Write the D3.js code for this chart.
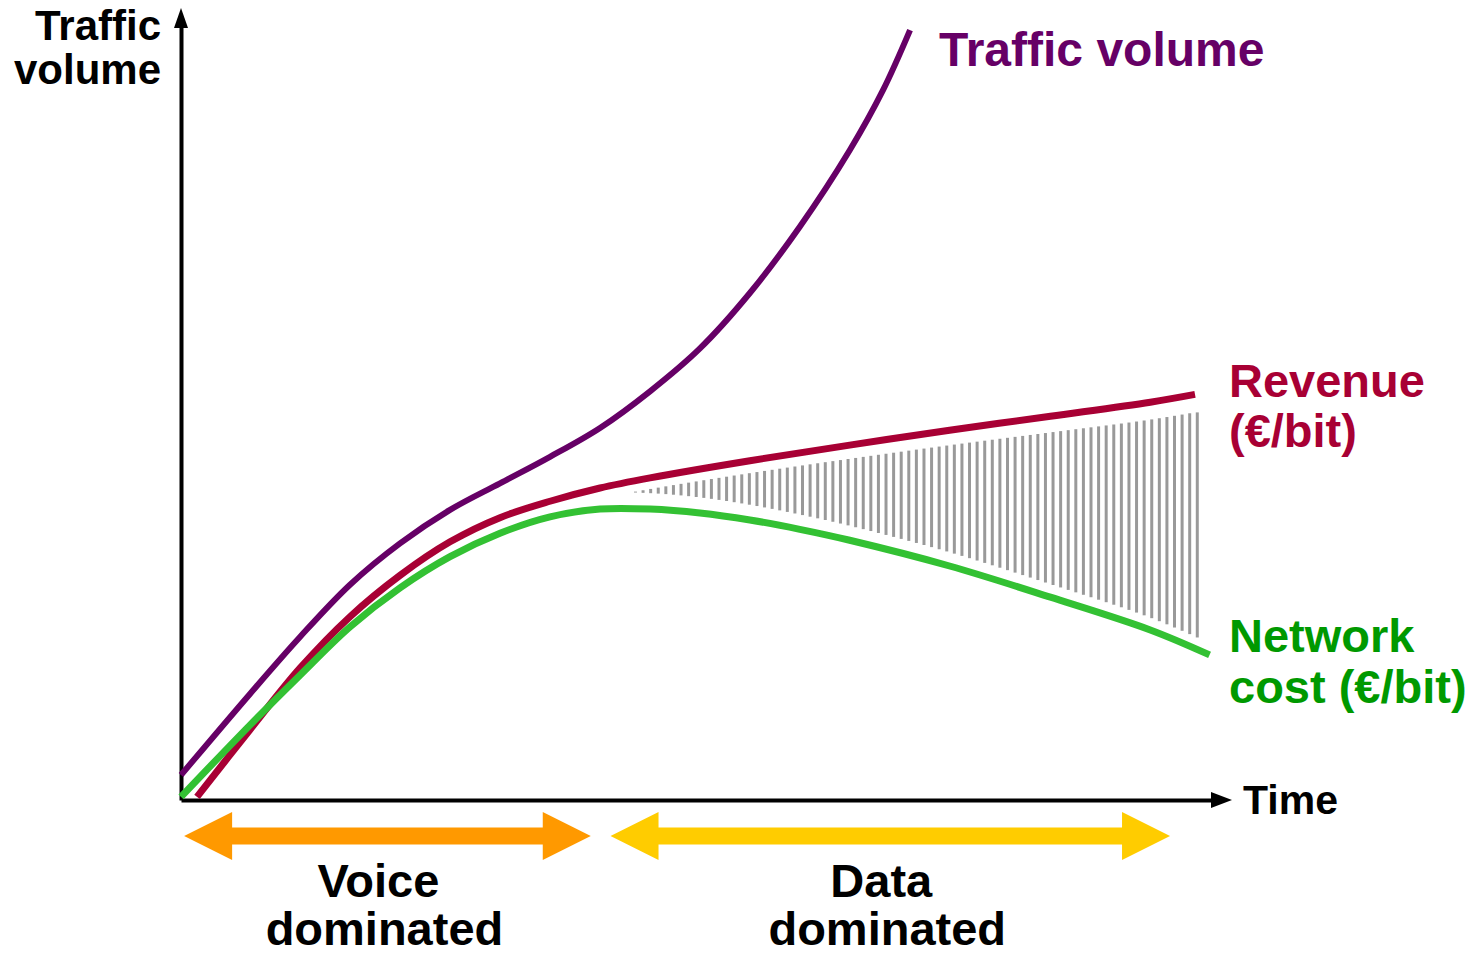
<!DOCTYPE html>
<html>
<head>
<meta charset="utf-8">
<script src="https://cdn.jsdelivr.net/npm/d3@7/dist/d3.min.js"></script>
<style>
  html, body { margin: 0; padding: 0; background: #ffffff; }
  svg { display: block; font-family: "Liberation Sans", Arial, sans-serif; font-weight: bold; }
</style>
</head>
<body>
<svg id="chart" width="1475" height="954"></svg>
<script>
// Conceptual curves: time 0–100, value 0–100 (no numeric ticks shown)
const trafficTime   = [0, 6.63, 11.44, 16.25, 21.06, 25.87, 30.67, 35.48, 40.29, 45.1, 49.9, 54.7, 59.5, 64.3, 67.5, 70.1];
const trafficValue  = [3.2, 13.6, 20.9, 27.6, 32.9, 37.2, 40.6, 44.0, 47.7, 52.4, 57.9, 65.0, 73.5, 83.3, 91.0, 98.7];

const revenueTime   = [1.54, 6.63, 11.44, 16.25, 21.06, 25.87, 30.67, 35.48, 40.29, 45.1, 54.7, 64.3, 73.9, 83.6, 93.2, 97.5];
const revenueValue  = [0.4, 9.0, 16.9, 23.5, 28.8, 33.1, 36.2, 38.3, 40.0, 41.3, 43.5, 45.5, 47.4, 49.2, 51.0, 52.0];

const costTime      = [0, 6.63, 11.44, 16.25, 21.06, 25.87, 30.67, 35.48, 40.29, 45.1, 49.9, 54.7, 59.5, 64.3, 73.9, 83.6, 93.2, 98.9];
const costValue     = [0.4, 9.6, 16.0, 22.2, 27.2, 31.2, 34.2, 36.3, 37.3, 37.3, 36.8, 35.9, 34.7, 33.3, 30.0, 26.0, 21.8, 18.6];

// Margin gap (hatched) between revenue and network cost
const gapStart = 43.7, gapEnd = 97.8, gapStep = 0.73;

// Eras shown under the time axis
const eraLabels = [["Voice", "dominated"], ["Data", "dominated"]];
const eraStart  = [0.3, 41.3];
const eraEnd    = [39.4, 95.1];
const eraColors = ["#ff9900", "#ffcc00"];

const svg = d3.select("#chart");
const x = d3.scaleLinear().domain([0, 100]).range([181, 1221]);
const y = d3.scaleLinear().domain([0, 100]).range([800, 20]);

const line = d3.line()
  .x(d => x(d[0])).y(d => y(d[1]))
  .curve(d3.curveCatmullRom.alpha(0.5));

// Axes
svg.append("g").attr("transform", `translate(0,${y(0)})`)
  .call(d3.axisBottom(x).tickValues([]).tickSizeOuter(0));
svg.append("g").attr("transform", `translate(${x(0)},0)`)
  .call(d3.axisLeft(y).tickValues([]).tickSizeOuter(0));
svg.selectAll(".domain").attr("stroke", "#000").attr("stroke-width", 4);

// arrowheads
svg.append("path")
  .attr("d", `M${x(100) - 10},${y(0) - 8} L${x(100) + 11},${y(0)} L${x(100) - 10},${y(0) + 8} Z`)
  .attr("fill", "#000");
svg.append("path")
  .attr("d", `M${x(0) - 7},${y(100) + 8} L${x(0)},${y(100) - 12} L${x(0) + 7},${y(100) + 8} Z`)
  .attr("fill", "#000");

const hatch = svg.append("g");

// Curves
const zip = (a, b) => a.map((v, i) => [v, b[i]]);
svg.append("path").datum(zip(trafficTime, trafficValue))
  .attr("d", line).attr("fill", "none").attr("stroke", "#660066").attr("stroke-width", 6);
const revenuePath = svg.append("path").datum(zip(revenueTime, revenueValue))
  .attr("d", line).attr("fill", "none").attr("stroke", "#a80034").attr("stroke-width", 7);
const costPath = svg.append("path").datum(zip(costTime, costValue))
  .attr("d", line).attr("fill", "none").attr("stroke", "#33c133").attr("stroke-width", 7);

// y of a rendered path at a given screen x
function yAt(node, px) {
  let lo = 0, hi = node.getTotalLength();
  for (let i = 0; i < 40; i++) {
    const mid = (lo + hi) / 2;
    if (node.getPointAtLength(mid).x < px) lo = mid; else hi = mid;
  }
  return node.getPointAtLength(lo).y;
}

// Hatched margin between revenue and cost
const rNode = revenuePath.node(), cNode = costPath.node();
d3.range(gapStart, gapEnd, gapStep).forEach(t => {
  const px = x(t);
  const f = (t - gapStart) / (gapEnd - gapStart);
  const top = yAt(rNode, px) + 11 + 7 * f;
  const bot = yAt(cNode, px) - 16 + 4 * f;
  if (bot - top > 0.5) {
    hatch.append("line")
      .attr("x1", px).attr("x2", px).attr("y1", top).attr("y2", bot)
      .attr("stroke", "#999999").attr("stroke-width", 3);
  }
});

// Era arrows
const ay = 836, headHalf = 24, shaftHalf = 8.5, headLen = 48;
eraLabels.forEach((lab, i) => {
  const a = x(eraStart[i]), b = x(eraEnd[i]);
  const pts = [
    [a, ay], [a + headLen, ay - headHalf], [a + headLen, ay - shaftHalf],
    [b - headLen, ay - shaftHalf], [b - headLen, ay - headHalf], [b, ay],
    [b - headLen, ay + headHalf], [b - headLen, ay + shaftHalf],
    [a + headLen, ay + shaftHalf], [a + headLen, ay + headHalf]
  ];
  svg.append("polygon").attr("points", pts.map(p => p.join(",")).join(" "))
    .attr("fill", eraColors[i]);
  const cx = (a + b) / 2;
  const t = svg.append("text").attr("text-anchor", "middle").attr("font-size", 47).attr("fill", "#000");
  t.append("tspan").attr("x", cx - 9).attr("y", 897).text(lab[0]);
  t.append("tspan").attr("x", cx - 3).attr("y", 945).text(lab[1]);
});

// Axis titles
const yt = svg.append("text").attr("text-anchor", "end").attr("font-size", 42).attr("fill", "#000");
yt.append("tspan").attr("x", 161).attr("y", 40).text("Traffic");
yt.append("tspan").attr("x", 161).attr("y", 84).text("volume");
svg.append("text").attr("x", 1243).attr("y", 814).attr("font-size", 41).attr("fill", "#000").text("Time");

// Series labels
svg.append("text").attr("x", 939).attr("y", 66).attr("font-size", 48).attr("fill", "#660066").text("Traffic volume");
const rt = svg.append("text").attr("font-size", 47).attr("fill", "#a80034");
rt.append("tspan").attr("x", 1229).attr("y", 397).text("Revenue");
rt.append("tspan").attr("x", 1229).attr("y", 447).text("(€/bit)");
const ct = svg.append("text").attr("font-size", 47).attr("fill", "#009900");
ct.append("tspan").attr("x", 1229).attr("y", 652).text("Network");
ct.append("tspan").attr("x", 1229).attr("y", 703).text("cost (€/bit)");
</script>
</body>
</html>
